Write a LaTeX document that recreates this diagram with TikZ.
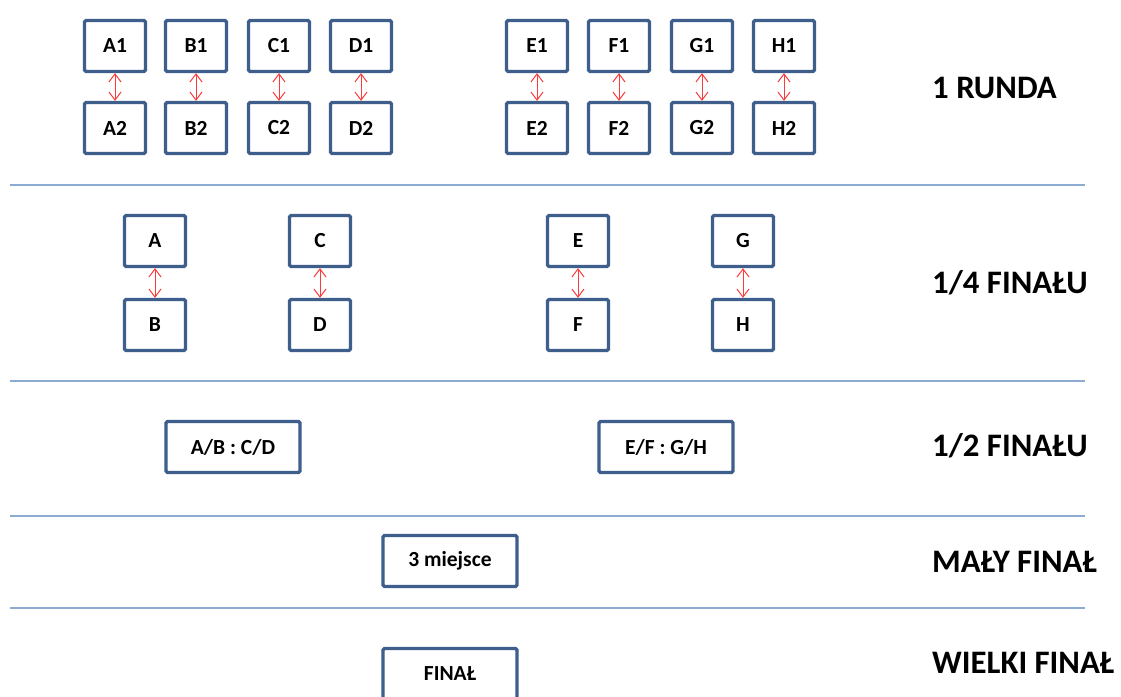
\documentclass[tikz,border=0pt]{standalone}
\usepackage{fontspec}
\setmainfont{Carlito}
\usetikzlibrary{arrows.meta}
\definecolor{boxblue}{RGB}{62,94,140}
\definecolor{sepblue}{RGB}{140,170,210}
\definecolor{arrred}{RGB}{250,60,60}
\tikzset{
  team/.style={draw=boxblue, line width=3.3pt, rounded corners=1.5pt, fill=white,
    minimum width=61pt, minimum height=51pt, inner sep=0pt,
    font=\fontsize{21.5}{25}\selectfont\bfseries},
  wide/.style={team, minimum width=134pt},
  duel/.style={draw=arrred, line width=1pt, {Straight Barb[length=8pt,width=12pt]}-{Straight Barb[length=8pt,width=12pt]}},
  sep/.style={draw=sepblue, line width=1.5pt},
  stage/.style={anchor=west, inner sep=0pt, font=\fontsize{32.8}{38}\selectfont\bfseries}
}
\begin{document}
\begin{tikzpicture}[x=1pt,y=-1pt]
\useasboundingbox (0,0) rectangle (1121,696);
\clip (0,0) rectangle (1121,696);
% round 1
\foreach \n/\x in {A/115,B/196,C/279,D/361,E/537,F/619,G/702,H/784}{
  \node[team] (\n1) at (\x,46) {\n1};
  \node[team] (\n2) at (\x,128) {\n2};
  \draw[duel] (\n1) -- (\n2);
}
% quarter finals
\foreach \a/\b/\x in {A/B/155,C/D/320,E/F/578,G/H/743}{
  \node[team] (q\a) at (\x,241) {\a};
  \node[team] (q\b) at (\x,325) {\b};
  \draw[duel] (q\a) -- (q\b);
}
% semi finals
\node[wide] (s1) at (233,447) {A/B : C/D};
\node[wide] (s2) at (666,447) {E/F : G/H};
% small final
\node[wide] (m) at (450,561) {3 miejsce};
% final
\node[wide] (f) at (450,674) {FINAŁ};
% separators
\coordinate (l1a) at (10,185); \coordinate (l1b) at (1085,185);
\coordinate (l2a) at (10,381); \coordinate (l2b) at (1085,381);
\coordinate (l3a) at (10,516); \coordinate (l3b) at (1085,516);
\coordinate (l4a) at (10,608); \coordinate (l4b) at (1085,608);
\draw[sep] (l1a) -- (l1b);
\draw[sep] (l2a) -- (l2b);
\draw[sep] (l3a) -- (l3b);
\draw[sep] (l4a) -- (l4b);
% stage labels
\node[stage] (t1) at (932,88) {1 RUNDA};
\node[stage] (t2) at (932,283) {1/4 FINAŁU};
\node[stage] (t3) at (932,446) {1/2 FINAŁU};
\node[stage] (t4) at (932,562) {MAŁY FINAŁ};
\node[stage] (t5) at (932,663) {WIELKI FINAŁ};
\end{tikzpicture}
\end{document}
